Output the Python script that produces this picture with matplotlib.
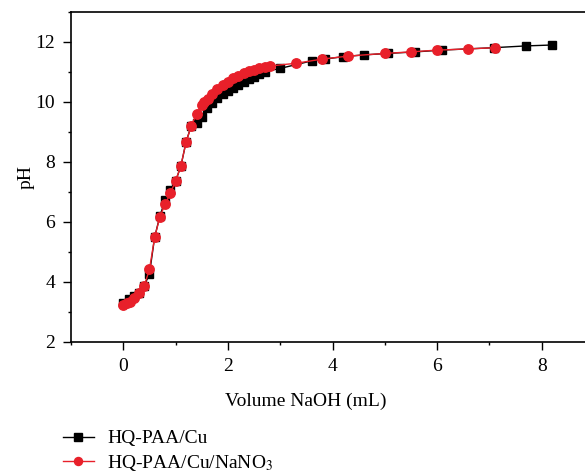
import matplotlib.pyplot as plt
from matplotlib.ticker import MultipleLocator

plt.rcParams['font.family'] = ['Liberation Serif', 'DejaVu Serif']
plt.rcParams['mathtext.fontset'] = 'stix'

# HQ-PAA/Cu (black squares)
vol_cu = [0, 0.1, 0.2, 0.3, 0.4, 0.5, 0.6, 0.7, 0.8, 0.9, 1.0, 1.1, 1.2, 1.3, 1.4,
          1.5, 1.6, 1.7, 1.8, 1.9, 2.0, 2.1, 2.2, 2.3, 2.4, 2.5, 2.6, 2.7, 3.0,
          3.6, 3.85, 4.2, 4.6, 5.07, 5.58, 6.09, 7.08, 7.7, 8.2]
ph_cu = [3.3, 3.42, 3.53, 3.64, 3.87, 4.27, 5.5, 6.2, 6.73, 7.05, 7.37, 7.85, 8.67, 9.21, 9.3,
         9.5, 9.79, 9.96, 10.12, 10.25, 10.38, 10.48, 10.57, 10.66, 10.75, 10.84, 10.93, 11.01, 11.12,
         11.37, 11.43, 11.51, 11.57, 11.62, 11.67, 11.73, 11.81, 11.87, 11.9]

# HQ-PAA/Cu/NaNO3 (red circles)
vol_no3 = [0, 0.07, 0.13, 0.2, 0.3, 0.4, 0.5, 0.6, 0.7, 0.8, 0.9, 1.0, 1.1, 1.2, 1.3,
           1.4, 1.5, 1.55, 1.62, 1.7, 1.8, 1.9, 2.0, 2.1, 2.2, 2.3, 2.4, 2.5, 2.6, 2.7, 2.8,
           3.3, 3.8, 4.3, 5.0, 5.5, 6.0, 6.6, 7.1]
ph_no3 = [3.23, 3.29, 3.34, 3.46, 3.62, 3.87, 4.42, 5.49, 6.18, 6.59, 6.96, 7.37, 7.87, 8.66, 9.21,
          9.6, 9.89, 10.0, 10.1, 10.25, 10.44, 10.56, 10.68, 10.8, 10.88, 10.95, 11.02, 11.08, 11.13, 11.17, 11.2,
          11.29, 11.43, 11.53, 11.62, 11.67, 11.73, 11.77, 11.81]

fig = plt.figure(figsize=(5.85, 4.74), dpi=100)
ax = fig.add_axes([71 / 585, 132 / 474, 523 / 585, 330 / 474])

l1, = ax.plot(vol_cu, ph_cu, color='black', lw=1, marker='s', ms=6, mec='black', mfc='black',
              label='HQ-PAA/Cu')
l2, = ax.plot(vol_no3, ph_no3, color='#e8202a', lw=1, marker='o', ms=6.8, mec='#e8202a', mfc='#e8202a',
              label='HQ-PAA/Cu/NaNO$_3$')

ax.set_xlim(-1, 9)
ax.set_ylim(2, 13)
ax.xaxis.set_major_locator(MultipleLocator(2))
ax.xaxis.set_minor_locator(MultipleLocator(1))
ax.yaxis.set_major_locator(MultipleLocator(2))
ax.yaxis.set_minor_locator(MultipleLocator(1))
ax.tick_params(which='major', direction='out', length=5.5, width=1, labelsize=14, pad=6)
ax.tick_params(which='minor', direction='out', length=2.5, width=1)
for s in ax.spines.values():
    s.set_linewidth(1.2)

ax.set_xlabel('Volume NaOH (mL)', fontsize=14)
ax.xaxis.set_label_coords((306 - 71) / 523, -0.155)
ax.set_ylabel('pH', fontsize=14)
ax.yaxis.set_label_coords(-0.07, 0.5)

fig.legend(handles=[l1, l2], loc='upper left', bbox_to_anchor=(53 / 585, 1 - 420 / 474),
           frameon=False, fontsize=14, handlelength=1.6, handletextpad=0.7,
           labelspacing=0.3, borderpad=0, markerscale=0.85)

fig.savefig('out.png', dpi=100)
